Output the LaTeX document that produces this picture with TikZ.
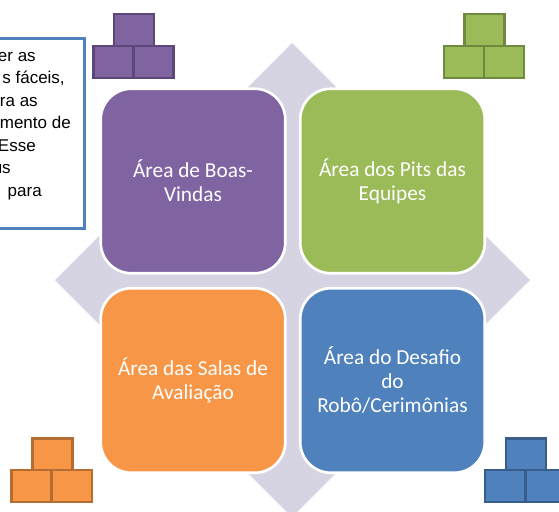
\documentclass[tikz,border=0pt]{standalone}
\usepackage{fontspec}
\usepackage{xcolor}
\setmainfont{Carlito}
\newfontfamily\notefont{Liberation Sans}
\definecolor{hubgray}{RGB}{214,211,226}
\definecolor{purplearea}{RGB}{128,100,162}
\definecolor{purpleline}{RGB}{92,71,118}
\definecolor{greenarea}{RGB}{155,187,89}
\definecolor{greenline}{RGB}{113,137,63}
\definecolor{orangearea}{RGB}{247,150,70}
\definecolor{orangeline}{RGB}{182,109,49}
\definecolor{bluearea}{RGB}{79,129,189}
\definecolor{blueline}{RGB}{56,93,138}
\usepackage{tikz}
\tikzstyle{area} = [rectangle, draw=white, line width=2pt, rounded corners=23pt,
  minimum width=138.4pt, minimum height=138.4pt, inner sep=4pt,
  align=center, text=white, font=\fontsize{16}{18}\selectfont]
\tikzstyle{block} = [rectangle, line width=2.2pt, inner sep=0pt,
  minimum width=30pt, minimum height=24pt]
\tikzstyle{noteline} = [anchor=base east, inner sep=0pt,
  font=\notefont\fontsize{12.75}{17}\selectfont]

\begin{document}
\begin{tikzpicture}[x=0.75pt, y=-0.75pt]
  \useasboundingbox (0,0) rectangle (559,511);
  \clip (0,0) rectangle (559,511);

  \fill[hubgray] (292,43) -- (530,280) -- (292,517) -- (55,280) -- cycle;

  \node[rectangle, draw=bluearea, fill=white, line width=2.2pt,
    minimum width=79pt, minimum height=142.5pt] (note) at (32,133.5) {};
  \foreach \name/\txt/\xpos/\ypos in {la/er as/36/61, lb/{s fáceis,}/65/83.5,
      lc/ra as/38/106, ld/mento de/71/128.5, le/Esse/36/151, lf/us/11/173.5,
      lg/para/42/196}
    \node[noteline] (\name) at (\xpos,\ypos) {\txt};

  \node[area, fill=purplearea] (boasvindas) at (193,181) {Área de Boas-\\Vindas};
  \node[area, fill=greenarea] (pits) at (392.5,181) {Área dos Pits das\\Equipes};
  \node[area, fill=orangearea] (salas) at (193,380.5) {Área das Salas de\\Avaliação};
  \node[area, fill=bluearea] (desafio) at (392.5,380.5) {Área do Desafio\\do\\Robô/Cerimônias};

  \node[block, draw=purpleline, fill=purplearea] (pa) at (134,30) {};
  \node[block, draw=purpleline, fill=purplearea] (pb) at (113.5,62) {};
  \node[block, draw=purpleline, fill=purplearea] (pc) at (153.5,62) {};

  \node[block, draw=greenline, fill=greenarea] (ga) at (484.5,30) {};
  \node[block, draw=greenline, fill=greenarea] (gb) at (464,62) {};
  \node[block, draw=greenline, fill=greenarea] (gc) at (504,62) {};

  \node[block, draw=orangeline, fill=orangearea] (oa) at (52.5,454.5) {};
  \node[block, draw=orangeline, fill=orangearea] (ob) at (31.5,486) {};
  \node[block, draw=orangeline, fill=orangearea] (oc) at (72,486) {};

  \node[block, draw=blueline, fill=bluearea] (ba) at (526,454.5) {};
  \node[block, draw=blueline, fill=bluearea] (bb) at (505,486) {};
  \node[block, draw=blueline, fill=bluearea] (bc) at (546,486) {};
\end{tikzpicture}
\end{document}
